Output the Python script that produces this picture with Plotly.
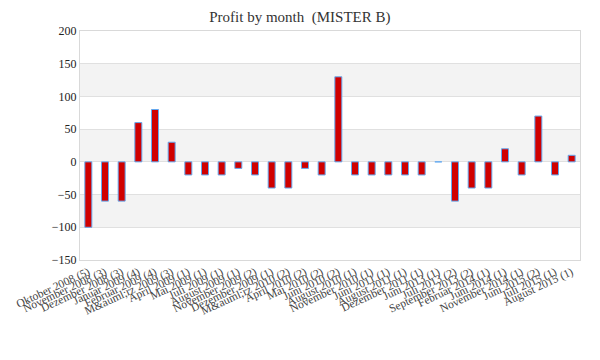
import plotly.graph_objects as go

months = [
    "Oktober 2008 (5)", "November 2008 (3)", "Dezember 2008 (3)", "Januar 2009 (4)",
    "Februar 2009 (4)", "M&auml;rz 2009 (3)", "April 2009 (1)", "Mai 2009 (1)",
    "Juli 2009 (1)", "August 2009 (1)", "November 2009 (2)", "Dezember 2009 (1)",
    "M&auml;rz 2010 (2)", "April 2010 (2)", "Mai 2010 (2)", "Juni 2010 (2)",
    "August 2010 (1)", "November 2010 (1)", "Juni 2011 (1)", "August 2011 (1)",
    "Dezember 2011 (1)", "Juni 2013 (1)", "Juli 2013 (2)", "September 2013 (2)",
    "Februar 2014 (1)", "Juni 2014 (1)", "November 2014 (1)", "Juni 2015 (2)",
    "Juli 2015 (1)", "August 2015 (1)",
]
profit = [
    -100, -60, -60, 60, 80, 30, -20, -20, -20, -10, -20, -40, -40, -10, -20, 130,
    -20, -20, -20, -20, -20, 0, -60, -40, -40, 20, -20, 70, -20, 10,
]
y_ticks = [-150, -100, -50, 0, 50, 100, 150, 200]

fig = go.Figure()
fig.add_trace(go.Bar(
    x=months, y=profit, width=0.42,
    marker=dict(color="#d00000", line=dict(color="#63a9f0", width=1)),
))

# alternating background bands
for i in range(len(y_ticks) - 1):
    lo, hi = y_ticks[i], y_ticks[i + 1]
    if i % 2 == 1:
        fig.add_shape(type="rect", xref="paper", yref="y", x0=0, x1=1, y0=lo, y1=hi,
                      fillcolor="#f3f3f3", line_width=0, layer="below")

# page body has an 8px default margin; figure sized to compensate
fig.update_layout(
    width=592, height=352,
    margin=dict(l=72, r=20, t=22.5, b=100, autoexpand=False),
    paper_bgcolor="white", plot_bgcolor="white",
    showlegend=False,
    title=dict(text="Profit by month  (MISTER B)", x=0.493, y=0.99, yanchor="top",
               xanchor="center",
               font=dict(family="Liberation Serif", size=15, color="#333333")),
    font=dict(family="Liberation Serif", size=11, color="#333333"),
    bargap=0.58,
)
fig.update_xaxes(tickangle=-25, showgrid=False, showline=True, linecolor="#d9d9d9",
                 mirror=True, ticks="", automargin=False,
                 tickfont=dict(size=11.5, color="#444444"))
fig.update_yaxes(range=[-150, 200], tickvals=y_ticks, showgrid=True, gridcolor="#e0e0e0",
                 zeroline=False, showline=True, linecolor="#d9d9d9", mirror=True,
                 ticks="", automargin=False,
                 tickfont=dict(size=12, color="#222222"))

fig.write_html("out.html")
